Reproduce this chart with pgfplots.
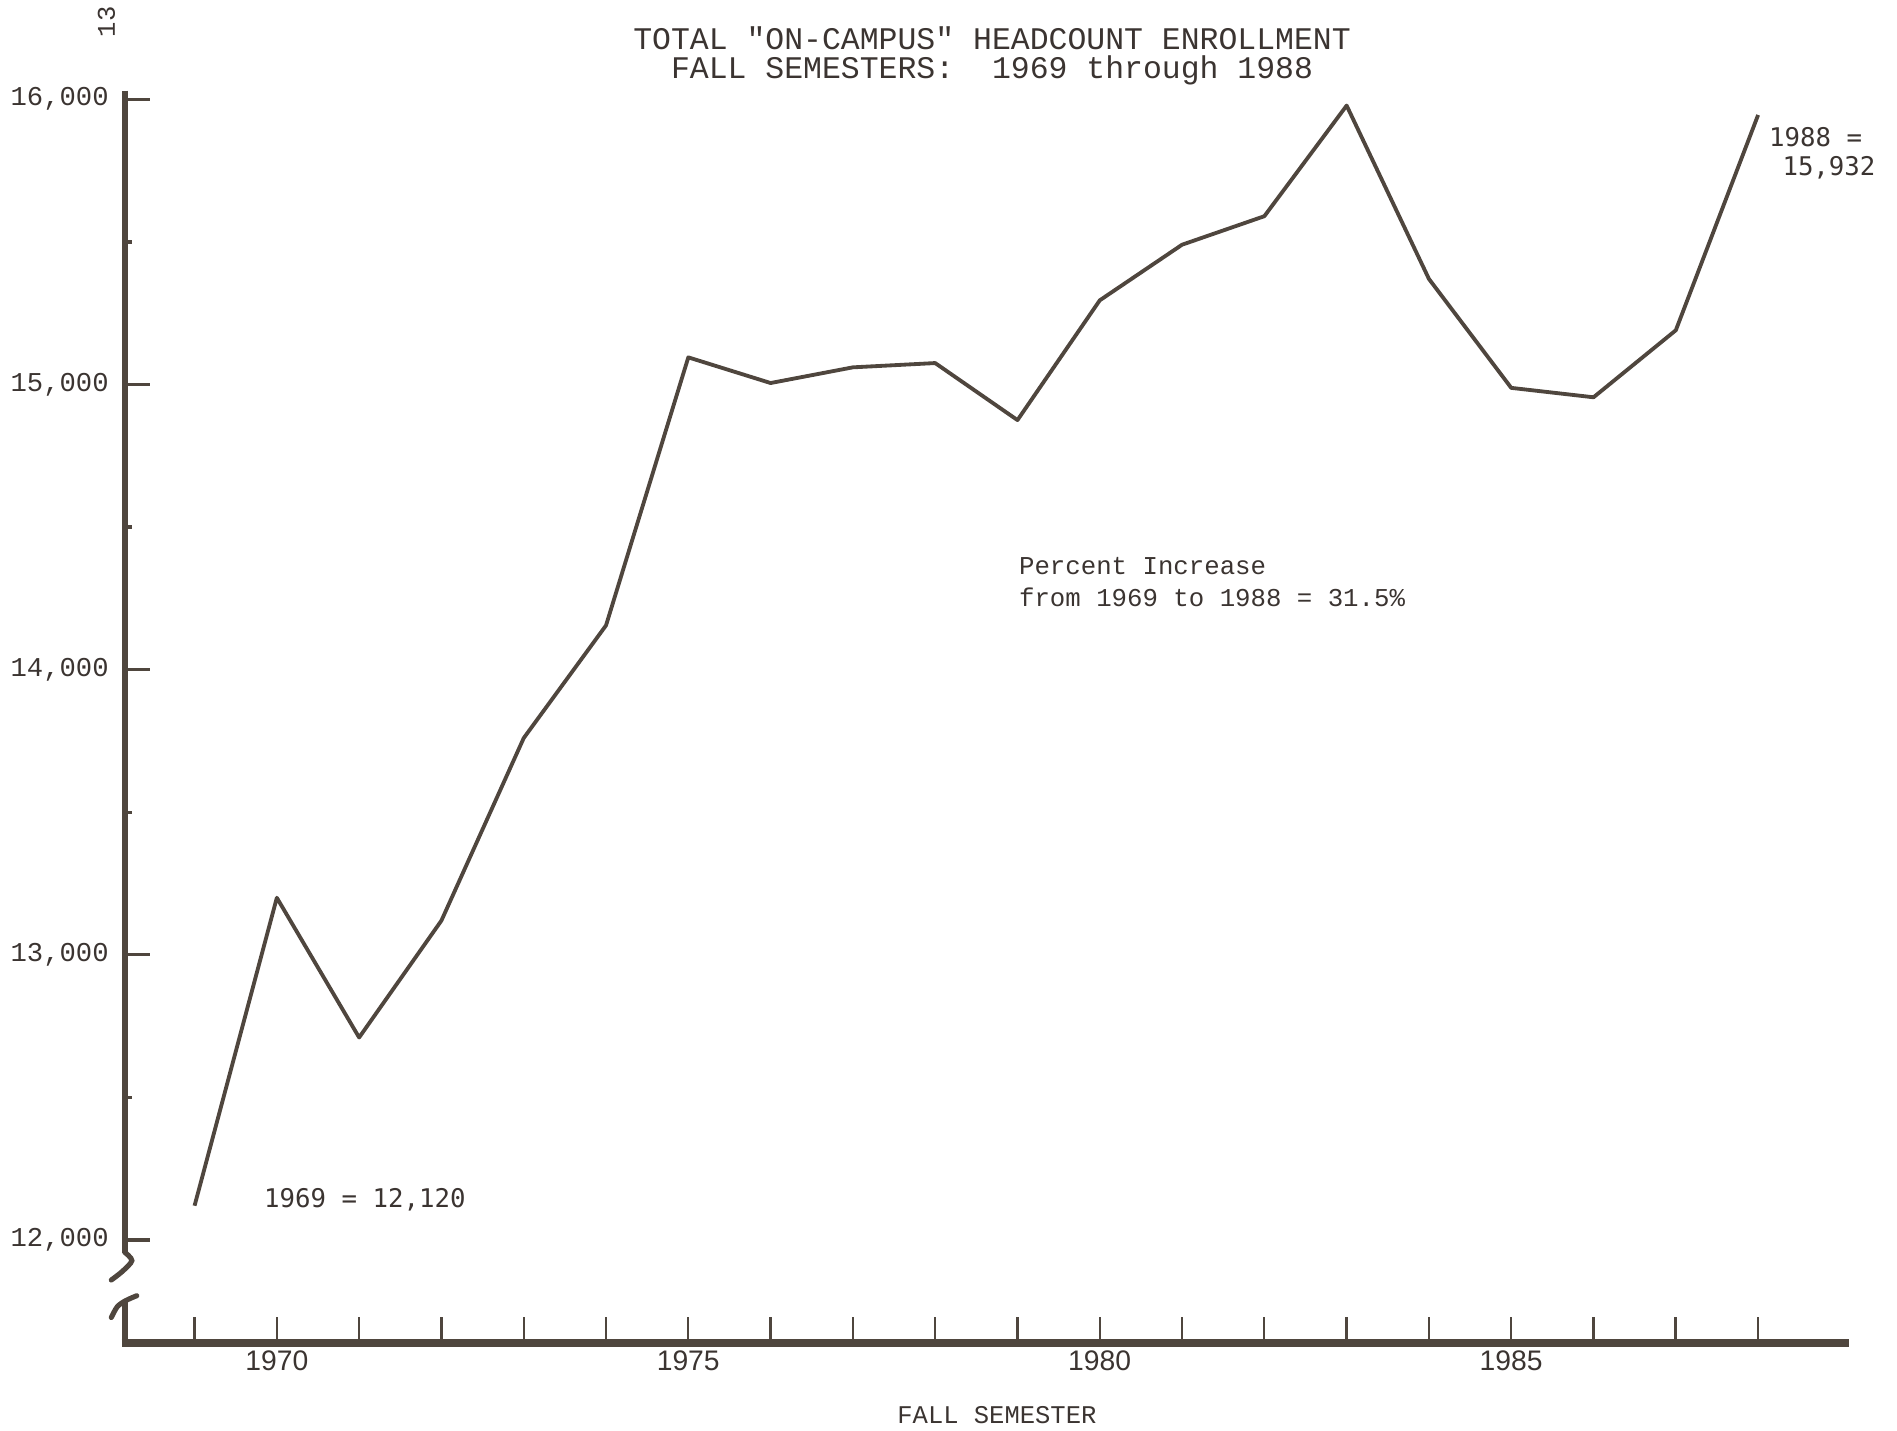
\documentclass[border=0pt]{standalone}
\usepackage{pgfplots}
\pgfplotsset{compat=1.18}
\usepackage{fontspec}
\setmainfont{Liberation Mono}
\newfontfamily\plainmono{Liberation Mono}
\newfontfamily\sansmono{DejaVu Sans Mono}
\newfontfamily\lsans{Liberation Sans}
\definecolor{inkc}{HTML}{4F463E}
\definecolor{txtc}{HTML}{3B3431}
\begin{document}
\begin{tikzpicture}
\begin{axis}[
  at={(0,0)}, anchor=south west,
  scale only axis, width=28.5cm, height=20.7cm,
  xmin=1968.15, xmax=1989.1,
  ymin=11639, ymax=16030,
  axis x line=bottom, axis y line=left,
  axis line style={draw=none},
  clip=false,
  scaled y ticks=false,
  tick align=inside,
  major tick length=0.42cm,
  minor tick length=0.12cm,
  xtick={1969,...,1988},
  xticklabels={,1970,,,,,1975,,,,,1980,,,,,1985,,,},
  xticklabel style={font=\lsans\fontsize{13.3}{15}\selectfont, text=txtc},
  x tick style={line width=1.1pt, color=inkc},
  ytick={12000,13000,14000,15000,16000},
  yticklabels={{12,000},{13,000},{14,000},{15,000},{16,000}},
  minor ytick={12500,13500,14500,15500},
  yticklabel style={font=\fontsize{12.8}{14}\selectfont, text=txtc, xshift=-0.14cm},
  y tick style={line width=1.6pt, color=inkc},
]
\addplot[color=inkc, line width=1.8pt, line join=round] coordinates {
(1969,12120) (1970,13200) (1971,12710) (1972,13120) (1973,13760)
(1974,14155) (1975,15095) (1976,15005) (1977,15060) (1978,15075)
(1979,14875) (1980,15295) (1981,15490) (1982,15590) (1983,15978)
(1984,15370) (1985,14988) (1986,14955) (1987,15190) (1988,15945)
};
\end{axis}
% axes drawn with a break on the y axis
\draw[inkc, line width=2.8pt] (0,20.7) -- (0,1.5);
\draw[inkc, line width=2.4pt, line cap=round] plot[smooth] coordinates {(0,1.5) (0.12,1.36) (-0.04,1.18) (-0.22,1.04)};
\draw[inkc, line width=2.4pt, line cap=round] plot[smooth] coordinates {(-0.22,0.42) (-0.12,0.60) (0.02,0.70) (0.2,0.78)};
\draw[inkc, line width=2.8pt] (0,0.70) -- (0,0);
\draw[inkc, line width=3.8pt] (-0.05,0) -- (28.5,0);
% texts
\node[text=txtc, font=\plainmono\fontsize{14.8}{16}\selectfont] at (14.34,21.56) {TOTAL "ON-CAMPUS" HEADCOUNT ENROLLMENT};
\node[text=txtc, font=\fontsize{14.8}{16}\selectfont] at (14.34,21.04) {FALL SEMESTERS:\ \ 1969 through 1988};
\node[text=txtc, font=\fontsize{12}{14}\selectfont, rotate=90] at (-0.3,21.84) {13};
\node[text=txtc, font=\sansmono\fontsize{12.1}{14}\selectfont, anchor=west, inner sep=0pt] at (2.3,2.36) {1969 = 12,120};
\node[text=txtc, font=\fontsize{12.1}{14}\selectfont, anchor=west, inner sep=0pt] at (14.78,12.84) {Percent Increase};
\node[text=txtc, font=\fontsize{12.1}{14}\selectfont, anchor=west, inner sep=0pt] at (14.78,12.32) {from 1969 to 1988 = 31.5\%};
\node[text=txtc, font=\sansmono\fontsize{12.1}{14}\selectfont, anchor=west, inner sep=0pt] at (27.18,19.94) {1988 =};
\node[text=txtc, font=\sansmono\fontsize{12.1}{14}\selectfont, anchor=west, inner sep=0pt] at (27.4,19.42) {15,932};
\node[text=txtc, font=\fontsize{12}{14}\selectfont] at (14.42,-1.2) {FALL SEMESTER};
\pgfresetboundingbox
\path[use as bounding box] (-2.06,-1.44) rectangle (29.3,22.2);
\end{tikzpicture}
\end{document}
